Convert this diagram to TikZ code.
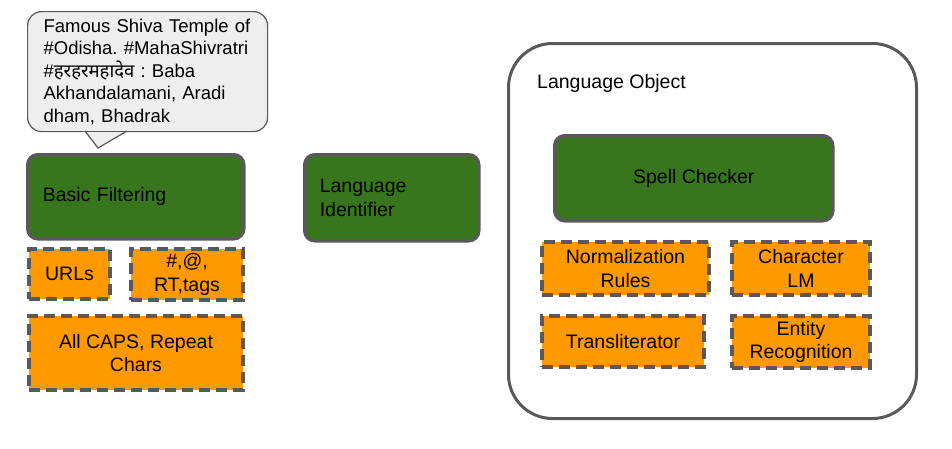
\documentclass[tikz,border=0pt]{standalone}
\usepackage{fontspec}
\setmainfont{Liberation Sans}
\newfontfamily\devfont[Script=Devanagari]{Noto Sans}
\usepackage{xcolor}
\definecolor{leafgreen}{HTML}{38761D}
\definecolor{amber}{HTML}{FF9900}
\definecolor{edgegray}{HTML}{595959}
\definecolor{bubblegray}{HTML}{EEEEEE}
\frenchspacing

\begin{document}
\begin{tikzpicture}[
    x=1pt, y=-1pt,
    font=\fontsize{19.5}{23.5}\selectfont,
    stage/.style={rectangle, draw=edgegray, fill=leafgreen, line width=3.5pt, rounded corners=10pt, anchor=north west, inner sep=0pt, align=center},
    leftstage/.style={stage, align=left, inner xsep=15pt},
    rulebox/.style={rectangle, draw=edgegray, fill=amber, line width=4pt, dash pattern=on 11pt off 6pt, anchor=north west, inner sep=0pt, align=center},
    bubble/.style={rectangle, draw=edgegray, fill=bubblegray, line width=1.2pt, rounded corners=14pt, anchor=north west, inner xsep=16pt, inner ysep=0pt, align=left, text width=208pt, minimum height=120pt, font=\fontsize{18.5}{22.5}\selectfont},
    container/.style={rectangle, draw=edgegray, line width=3pt, rounded corners=44pt, anchor=north west, minimum width=408pt, minimum height=375pt}
]
\useasboundingbox (0,0) rectangle (952,448);

% tweet callout
\node[bubble] (tweet) at (27,11) {Famous Shiva Temple of\\\#Odisha. \#MahaShivratri\\\#{\devfont हरहरमहादेव} : Baba\\Akhandalamani, Aradi\\dham, Bhadrak};
\coordinate (tipl) at (85,131);
\coordinate (tipr) at (127,131);
\coordinate (tip) at (98,148);
\fill[bubblegray] ([yshift=-1.5pt]tipl) -- (tip) -- ([yshift=-1.5pt]tipr) -- cycle;
\draw[edgegray, line width=1.2pt] (tipl) -- (tip) -- (tipr);

% filtering column
\node[leftstage, text width=186pt, minimum height=84pt] (filter) at (26,153) {Basic Filtering};
\node[rulebox, minimum width=81pt, minimum height=50pt] (urls) at (27,247) {URLs};
\node[rulebox, minimum width=112pt, minimum height=51pt] (tags) at (129,247) {\#,@,\\RT,tags};
\node[rulebox, minimum width=214pt, minimum height=74pt] (caps) at (27,314) {All CAPS, Repeat\\Chars};

% language identifier
\node[leftstage, text width=144pt, minimum height=86pt] (langid) at (303,153) {Language\\Identifier};

% language object
\node[container] (langobj) at (507,42) {};
\node[anchor=west, inner sep=0pt] (objlabel) at (537,83) {Language Object};
\node[stage, minimum width=278pt, minimum height=85pt] (spell) at (553,134) {Spell Checker};
\node[rulebox, minimum width=167pt, minimum height=53pt] (norm) at (540,240) {Normalization\\Rules};
\node[rulebox, minimum width=138pt, minimum height=53pt] (charlm) at (730,240) {Character\\LM};
\node[rulebox, minimum width=162pt, minimum height=51pt] (translit) at (540,314) {Transliterator};
\node[rulebox, minimum width=138pt, minimum height=52pt] (entity) at (730,314) {Entity\\Recognition};

\end{tikzpicture}
\end{document}
